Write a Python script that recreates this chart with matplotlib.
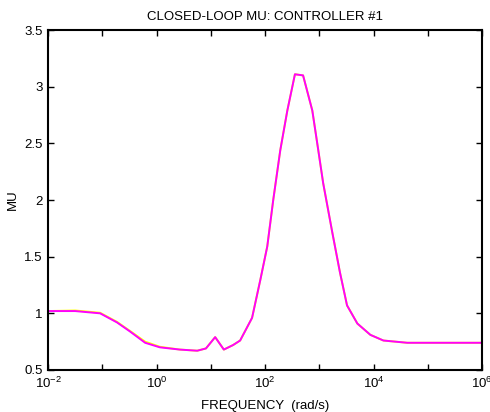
import numpy as np
import matplotlib
matplotlib.use('Agg')
import matplotlib.pyplot as plt

plt.rcParams['font.family'] = ['Liberation Sans', 'DejaVu Sans']
plt.rcParams['mathtext.fontset'] = 'custom'
plt.rcParams['mathtext.rm'] = 'Liberation Sans'
plt.rcParams['mathtext.it'] = 'Liberation Sans'

# 数据：频率的 log10 值 和 mu 值
log_freq = [-2.00, -1.50, -1.04, -0.73, -0.49, -0.21, 0.06, 0.43, 0.75, 0.91,
            1.08, 1.24, 1.41, 1.54, 1.76, 1.91, 2.04, 2.15, 2.28, 2.41,
            2.55, 2.70, 2.87, 2.98, 3.07, 3.24, 3.38, 3.51, 3.70, 3.94,
            4.18, 4.62, 5.04, 6.00]
mu = [1.02, 1.02, 1.00, 0.92, 0.84, 0.74, 0.70, 0.68, 0.67, 0.69,
      0.79, 0.68, 0.72, 0.76, 0.96, 1.29, 1.59, 2.00, 2.44, 2.79,
      3.11, 3.10, 2.79, 2.44, 2.15, 1.71, 1.36, 1.07, 0.91, 0.81,
      0.76, 0.74, 0.74, 0.74]
# 下面那条黄色曲线，大部分和 mu 重合
mu_yellow = [1.02, 1.025, 1.005, 0.925, 0.845, 0.75, 0.705, 0.68, 0.67, 0.69,
             0.79, 0.68, 0.72, 0.76, 0.96, 1.29, 1.59, 2.00, 2.44, 2.79,
             3.11, 3.10, 2.79, 2.44, 2.15, 1.71, 1.36, 1.07, 0.91, 0.81,
             0.76, 0.74, 0.74, 0.74]

x_decades = [-2, -1, 0, 1, 2, 3, 4, 5, 6]
y_ticks = [0.5, 1, 1.5, 2, 2.5, 3, 3.5]

freq = 10.0 ** np.array(log_freq)

fig = plt.figure(figsize=(4.9, 4.12), dpi=100)
ax = fig.add_axes([0.098, 0.102, 0.886, 0.825])

ax.semilogx(freq, mu_yellow, color='#ffff00', linewidth=1.4)
ax.semilogx(freq, mu, color='#ff00ff', linewidth=1.4)

ax.set_xlim(1e-2, 1e6)
ax.set_ylim(0.5, 3.5)

xt = [10.0 ** d for d in x_decades]
xl = ['$10^{%d}$' % d if d % 2 == 0 else '' for d in x_decades]
ax.set_xticks(xt)
ax.set_xticklabels(xl)
ax.xaxis.set_minor_locator(matplotlib.ticker.NullLocator())
ax.set_yticks(y_ticks)
ax.set_yticklabels(['0.5', '1', '1.5', '2', '2.5', '3', '3.5'])

ax.tick_params(direction='in', top=True, right=True, length=4, width=1,
               labelsize=9.5, pad=4)
for s in ax.spines.values():
    s.set_linewidth(1.5)

ax.set_title('CLOSED-LOOP MU: CONTROLLER #1', fontsize=9.5, pad=7)
ax.set_xlabel('FREQUENCY  (rad/s)', fontsize=9.5, labelpad=7)
ax.set_ylabel('MU', fontsize=9.5, labelpad=4)

fig.savefig('out.png', dpi=100)
